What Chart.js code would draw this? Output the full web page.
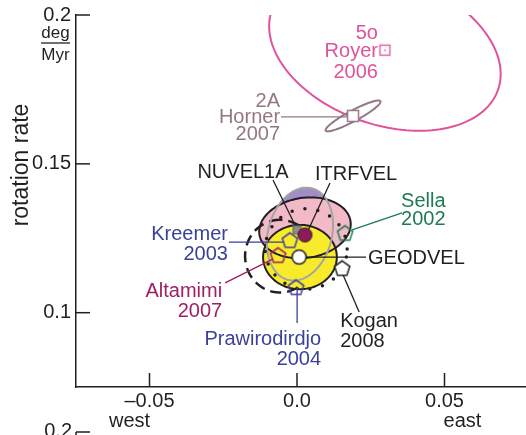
<!DOCTYPE html>
<html><head><meta charset="utf-8">
<script src="https://cdn.jsdelivr.net/npm/chart.js@4"></script>
<style>html,body{margin:0;padding:0;background:#fff;}#wrap{width:526px;height:435px;position:relative;}</style>
</head><body><div id="wrap"><canvas id="c" width="526" height="435"></canvas></div>
<script>
// ---- data ----
const models   = ['NUVEL1A','ITRFVEL','GEODVEL','Kreemer 2003','Altamimi 2007','Prawirodirdjo 2004','Sella 2002','Kogan 2008','Horner 2007','Royer 2006'];
const eastRate = [0.0000, 0.0027, 0.0007, -0.0024, -0.0064, -0.0003, 0.0163, 0.0153, 0.0190, 0.0298];
const rotRate  = [0.1278, 0.1261, 0.1187, 0.1244, 0.1194, 0.1086, 0.1268, 0.1150, 0.1661, 0.1882];

// error ellipses: centre, semi-axes (deg/Myr) and orientation (degrees)
const ellipseIds = ['Royer 2006','Horner 2007','NUVEL1A','ITRFVEL','GEODVEL','Altamimi 2007','Kogan 2008'];
const ellCx  = [0.0298, 0.0190, 0.0010, 0.0027, 0.0010, -0.0058, 0.0031];
const ellCy  = [0.1882, 0.1661, 0.1264, 0.1285, 0.1187, 0.1190, 0.1214];
const ellA   = [0.0406, 0.0105, 0.0159, 0.0156, 0.0125, 0.0122, 0.0139];
const ellB   = [0.0250, 0.0018, 0.0108, 0.0101, 0.0108, 0.0118, 0.0135];
const ellAng = [-19, 28, 75, 8, 0, 90, 0];

const xTickValues = [-0.05, 0, 0.05];
const xTickLabels = ['\u20130.05', '0.0', '0.05'];
const yTickValues = [0.1, 0.15, 0.2];
const yTickLabels = ['0.1', '0.15', '0.2'];

// ---- styles ----
const FONT = '"Liberation Sans", Arial, Helvetica, sans-serif';
const INK = '#231f20';
const C = {pink:'#e1529b', mauve:'#937884', blue:'#3b4199', mag:'#9e1f63', green:'#1b7d4f'};

function mk(size){const c=document.createElement('canvas');c.width=c.height=size;return [c,c.getContext('2d')];}
function pentagon(stroke, fill, r=8, lw=1.5){
  const s=Math.ceil(2*r+5);const [c,g]=mk(s);g.translate(s/2,s/2+r*0.1);g.beginPath();
  for(let k=0;k<5;k++){const a=(-90+72*k)*Math.PI/180;g.lineTo(r*Math.cos(a),r*Math.sin(a));}
  g.closePath();if(fill){g.fillStyle=fill;g.fill();}g.strokeStyle=stroke;g.lineWidth=lw;g.lineJoin='miter';g.stroke();return c;
}
function square(stroke, fill, w, lw, dot){
  const s=Math.ceil(w+5);const [c,g]=mk(s);g.translate(s/2,s/2);
  if(fill){g.fillStyle=fill;g.fillRect(-w/2,-w/2,w,w);}g.strokeStyle=stroke;g.lineWidth=lw;g.strokeRect(-w/2,-w/2,w,w);
  if(dot){g.fillStyle=stroke;g.fillRect(-0.8,-0.8,1.6,1.6);}return c;
}
function circle(stroke, fill, r, lw){
  const s=Math.ceil(2*r+5);const [c,g]=mk(s);g.translate(s/2,s/2);g.beginPath();g.arc(0,0,r,0,Math.PI*2);
  g.fillStyle=fill;g.fill();g.strokeStyle=stroke;g.lineWidth=lw;g.stroke();return c;
}
const markerImgs = [
  square('#6d6d6d','#8d8d8d',8,1.2,false),
  circle(INK,'#8c1b5c',7,1),
  circle(INK,'#ffffff',7,1.5),
  pentagon(C.blue,null),
  pentagon(C.mag,null),
  pentagon(C.blue,null),
  pentagon(C.green,null),
  pentagon(INK,'#ffffff'),
  square(C.mauve,'#ffffff',11,1.5,false),
  square(C.pink,'#ffffff',10,1.3,true)
];

// labels: model index, text lines, colour, alignment, offset from marker (px), leader line offsets
const labelSpec = [
  {i:0, lines:['NUVEL1A'], color:INK, align:'center', dx:-54, dy:[-52], lead:[-24,-50,-2,-5]},
  {i:1, lines:['ITRFVEL'], color:INK, align:'left', dx:10, dy:[-55], lead:[25,-52,1,0]},
  {i:2, lines:['GEODVEL'], color:INK, align:'left', dx:69, dy:[7], lead:[0,0,67,0]},
  {i:3, lines:['Kreemer','2003'], color:C.blue, align:'right', dx:-62, dy:[0,20], lead:[-61,2,-6,2]},
  {i:4, lines:['Altamimi','2007'], color:C.mag, align:'right', dx:-56, dy:[42,62], lead:[-53,28,-5,4]},
  {i:5, lines:['Prawirodirdjo','2004'], color:C.blue, align:'right', dx:25, dy:[58,78], lead:[1,0,1,36]},
  {i:6, lines:['Sella','2002'], color:C.green, align:'left', dx:56, dy:[-26,-8], lead:[7,-3,57,-20]},
  {i:7, lines:['Kogan','2008'], color:INK, align:'left', dx:-2, dy:[59,79], lead:[1,7,17,44]},
  {i:8, lines:['2A','Horner','2007'], color:C.mauve, align:'right', dx:-73, dy:[-9,7,24], lead:[-72,1,-6,1]},
  {i:9, lines:['5o','Royer','2006'], color:C.pink, align:'right', dx:-7, dy:[-11,7,28], lead:null}
];

function ellipsePath(ctx, chart, j){
  const xs=chart.scales.x, ys=chart.scales.y, th=ellAng[j]*Math.PI/180, N=160;
  ctx.beginPath();
  for(let k=0;k<=N;k++){
    const t=2*Math.PI*k/N;
    const dx=ellA[j]*Math.cos(t)*Math.cos(th)-ellB[j]*Math.sin(t)*Math.sin(th);
    const dy=ellA[j]*Math.cos(t)*Math.sin(th)+ellB[j]*Math.sin(t)*Math.cos(th);
    const px=xs.getPixelForValue(ellCx[j]+dx), py=ys.getPixelForValue(ellCy[j]+dy);
    if(k===0)ctx.moveTo(px,py);else ctx.lineTo(px,py);
  }
  ctx.closePath();
}

const drawPlugin = {
  id:'decor',
  beforeDatasetsDraw(chart){
    const ctx=chart.ctx, a=chart.chartArea;
    ctx.save();
    ctx.beginPath();ctx.rect(a.left,a.top,a.right-a.left,a.bottom-a.top);ctx.clip();
    const E = n => ellipseIds.indexOf(n);
    const fill=(j,col)=>{ellipsePath(ctx,chart,j);ctx.fillStyle=col;ctx.fill();};
    const stroke=(j,col,w,dash,cap)=>{ellipsePath(ctx,chart,j);ctx.strokeStyle=col;ctx.lineWidth=w;ctx.setLineDash(dash||[]);ctx.lineCap=cap||'butt';ctx.stroke();ctx.setLineDash([]);};
    stroke(E('Royer 2006'),C.pink,2);
    stroke(E('Horner 2007'),C.mauve,2);
    fill(E('NUVEL1A'),'#a38dc6');
    fill(E('ITRFVEL'),'#f2b9c7');
    stroke(E('Altamimi 2007'),INK,2.5,[11,6]);
    fill(E('GEODVEL'),'#f7eb2b');
    stroke(E('ITRFVEL'),INK,2);
    stroke(E('GEODVEL'),INK,2);
    stroke(E('NUVEL1A'),'#a4a4a4',2);
    stroke(E('Kogan 2008'),INK,3.5,[0,13],'round');
    const xs=chart.scales.x, ys=chart.scales.y;
    ctx.restore();ctx.save();
    ctx.lineWidth=1.3;
    labelSpec.forEach(L=>{
      if(!L.lead)return;
      const mx=xs.getPixelForValue(eastRate[L.i]), my=ys.getPixelForValue(rotRate[L.i]);
      ctx.strokeStyle=L.color;ctx.beginPath();ctx.moveTo(mx+L.lead[0],my+L.lead[1]);ctx.lineTo(mx+L.lead[2],my+L.lead[3]);ctx.stroke();
    });
    ctx.restore();
  },
  afterDraw(chart){
    const ctx=chart.ctx, xs=chart.scales.x, ys=chart.scales.y, a=chart.chartArea;
    ctx.save();
    ctx.strokeStyle=INK;ctx.lineWidth=1.5;
    xTickValues.forEach(v=>{const p=xs.getPixelForValue(v);ctx.beginPath();ctx.moveTo(p,a.bottom);ctx.lineTo(p,a.bottom-14);ctx.stroke();});
    yTickValues.forEach(v=>{const p=ys.getPixelForValue(v);ctx.beginPath();ctx.moveTo(a.left,p);ctx.lineTo(a.left+14,p);ctx.stroke();});
    ctx.beginPath();ctx.moveTo(a.left,432);ctx.lineTo(a.left+14,432);ctx.moveTo(a.left,432);ctx.lineTo(a.left,440);ctx.stroke();
    ctx.fillStyle=INK;ctx.font='20px '+FONT;ctx.textAlign='right';ctx.textBaseline='alphabetic';
    ctx.fillText('0.2',a.left-4,437);
    ctx.textAlign='center';
    ctx.fillText('west',xs.getPixelForValue(-0.05)-20,427);
    ctx.fillText('east',xs.getPixelForValue(0.05)+18,427);
    ctx.font='17px '+FONT;
    ctx.fillText('deg',55.5,38);
    ctx.fillText('Myr',55.5,60);
    ctx.lineWidth=1.3;ctx.beginPath();ctx.moveTo(41,43);ctx.lineTo(70,43);ctx.stroke();
    ctx.save();ctx.translate(28,165);ctx.rotate(-Math.PI/2);ctx.font='23px '+FONT;ctx.textAlign='center';ctx.fillText('rotation rate',0,0);ctx.restore();
    ctx.font='20px '+FONT;
    labelSpec.forEach(L=>{
      const mx=xs.getPixelForValue(eastRate[L.i]), my=ys.getPixelForValue(rotRate[L.i]);
      ctx.fillStyle=L.color;ctx.textAlign=L.align;
      L.lines.forEach((t,k)=>ctx.fillText(t,mx+L.dx,my+L.dy[k]));
    });
    ctx.restore();
  }
};

new Chart(document.getElementById('c'), {
  type:'scatter',
  data:{datasets:[{
    label:'plate models',
    data: models.map((m,i)=>({x:eastRate[i], y:rotRate[i]})),
    pointStyle: ctx => markerImgs[ctx.dataIndex],
    pointRadius: 8, pointHoverRadius: 8
  }]},
  options:{
    responsive:false, animation:false, events:[],
    layout:{autoPadding:false, padding:{top:15,left:0,right:0,bottom:0}},
    plugins:{legend:{display:false}, tooltip:{enabled:false}},
    scales:{
      x:{type:'linear', min:-0.07492, max:0.07763,
        afterBuildTicks:s=>{s.ticks=xTickValues.map(v=>({value:v}));},
        ticks:{callback:(v,i)=>xTickLabels[i], font:{family:FONT,size:20}, color:INK, padding:2, maxRotation:0, autoSkip:false},
        grid:{display:false, drawTicks:false},
        border:{display:true, color:INK, width:1.5},
        afterFit:s=>{s.height=48; s.paddingLeft=0; s.paddingRight=0;}
      },
      y:{type:'linear', min:0.07504, max:0.2,
        afterBuildTicks:s=>{s.ticks=yTickValues.map(v=>({value:v}));},
        ticks:{callback:(v,i)=>yTickLabels[i], font:{family:FONT,size:20}, color:INK, padding:5, autoSkip:false},
        grid:{display:false, drawTicks:false},
        border:{display:true, color:INK, width:1.5},
        afterFit:s=>{s.width=76; s.paddingTop=0; s.paddingBottom=0;}
      }
    }
  },
  plugins:[drawPlugin]
});
</script></body></html>
